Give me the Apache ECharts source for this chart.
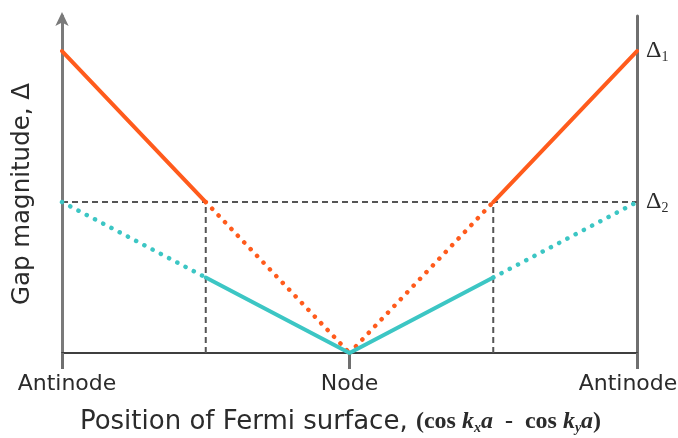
<!DOCTYPE html>
<html>
<head>
<meta charset="utf-8">
<script src="https://cdn.jsdelivr.net/npm/echarts@6/dist/echarts.min.js"></script>
<style>
  html, body { margin: 0; padding: 0; background: #ffffff; }
  #chart { width: 678px; height: 438px; }
</style>
</head>
<body>
<div id="chart"></div>
<script>
// Positions along the Fermi surface: antinode (-1), node (0), antinode (1)
const positions = [-1, -0.5, 0, 0.5, 1];
const positionLabels = { '-1': '{l|Antinode}', '0': 'Node', '1': '{r|Antinode}' };

// Gap levels marked on the right-hand axis
const delta1 = 1.0;
const delta2 = 0.5;

// Gap magnitude of each branch at the positions above
const orangeGap = [1.0, 0.5, 0.0, 0.5, 1.0];
const cyanGap = [0.5, 0.25, 0.0, 0.25, 0.5];

// Which segment between consecutive positions is drawn solid (true) or dotted (false)
const orangeSolid = [true, false, false, true];
const cyanSolid = [false, true, true, false];

const ORANGE = '#ff5b1c';
const CYAN = '#3cc6c4';
const GUIDE = '#555555';

function pairs(values, solidFlags, wantSolid) {
  const out = [];
  for (let i = 0; i < solidFlags.length; i++) {
    if (solidFlags[i] === wantSolid) {
      out.push([positions[i], values[i]], [positions[i + 1], values[i + 1]], [NaN, NaN]);
    }
  }
  return out;
}

function segSeries(name, values, flags, solid, color) {
  return {
    name: name,
    type: 'line',
    data: pairs(values, flags, solid),
    connectNulls: false,
    showSymbol: false,
    symbol: 'none',
    silent: true,
    z: solid ? 4 : 3,
    lineStyle: solid
      ? { color: color, width: 4, cap: 'round' }
      : { color: color, width: 4.5, type: [0.1, 9.2], cap: 'round' }
  };
}

// Dashed guides: the Δ2 level and the two kink positions
const kinkLeft = positions[1];
const kinkRight = positions[3];
const guideData = [
  [positions[0], delta2], [positions[4], delta2], [NaN, NaN],
  [kinkLeft, 0], [kinkLeft, delta2], [NaN, NaN],
  [kinkRight, 0], [kinkRight, delta2]
];

const chart = echarts.init(document.getElementById('chart'), null, { renderer: 'canvas' });

const yMax = 1.116;
const TEXT = '#2b2b2b';

chart.setOption({
  backgroundColor: '#ffffff',
  animation: false,
  grid: { left: 62, right: 41, top: 16, bottom: 85, containLabel: false, outerBoundsMode: 'none' },
  xAxis: {
    type: 'value',
    min: -1,
    max: 1,
    interval: 1,
    splitLine: { show: false },
    axisLine: { show: true, onZero: false, lineStyle: { color: '#3f3f3f', width: 2 } },
    axisTick: { show: true, length: 16, lineStyle: { color: '#6f6f6f', width: 3 } },
    axisLabel: {
      margin: 20,
      fontFamily: 'DejaVu Sans',
      fontSize: 22,
      color: TEXT,
      formatter: v => positionLabels[String(v)] || '',
      rich: {
        l: { fontFamily: 'DejaVu Sans', fontSize: 22, color: TEXT, padding: [0, 0, 0, 10] },
        r: { fontFamily: 'DejaVu Sans', fontSize: 22, color: TEXT, padding: [0, 18, 0, 0] }
      }
    },
    name: '{t|Position of Fermi surface, }{f|(cos }{i|k}{s|x}{i|a}{f|  -  cos }{i|k}{s|y}{i|a}{f|)}',
    nameLocation: 'middle',
    nameGap: 56,
    nameTextStyle: {
      padding: [0, 18, 0, 0],
      rich: {
        t: { fontFamily: 'DejaVu Sans', fontSize: 26, color: TEXT },
        f: { fontFamily: 'Liberation Serif', fontWeight: 'bold', fontSize: 24, color: TEXT },
        i: { fontFamily: 'Liberation Serif', fontWeight: 'bold', fontStyle: 'italic', fontSize: 24, color: TEXT },
        s: { fontFamily: 'Liberation Serif', fontWeight: 'bold', fontStyle: 'italic', fontSize: 14, color: TEXT, verticalAlign: 'bottom', padding: [12, 0, 0, 0] }
      }
    }
  },
  yAxis: [
    {
      type: 'value',
      min: 0,
      max: yMax,
      position: 'left',
      splitLine: { show: false },
      axisTick: { show: false },
      axisLabel: { show: false },
      axisLine: {
        show: true,
        onZero: false,
        symbol: ['none', 'arrow'],
        symbolSize: [10, 14],
        symbolOffset: [0, 4],
        lineStyle: { color: '#7a7a7a', width: 3 }
      },
      name: 'Gap magnitude, Δ',
      nameLocation: 'middle',
      nameGap: 27,
      nameTextStyle: {
        fontFamily: 'DejaVu Sans',
        fontSize: 24.5,
        color: TEXT,
        padding: [0, 19, 0, 0]
      }
    },
    {
      type: 'value',
      min: 0,
      max: yMax,
      interval: delta2,
      position: 'right',
      splitLine: { show: false },
      axisTick: { show: false },
      axisLine: { show: true, onZero: false, lineStyle: { color: '#6f6f6f', width: 3 } },
      axisLabel: {
        margin: 9,
        showMaxLabel: false,
        formatter: v => {
          if (Math.abs(v - delta1) < 1e-6) return '{d|Δ}{s|1}';
          if (Math.abs(v - delta2) < 1e-6) return '{d|Δ}{s|2}';
          return '';
        },
        rich: {
          d: { fontFamily: 'Liberation Serif', fontSize: 24, color: TEXT },
          s: { fontFamily: 'Liberation Serif', fontSize: 14, color: TEXT, verticalAlign: 'bottom', padding: [12, 0, 0, 0] }
        }
      }
    }
  ],
  series: [
    {
      name: 'guides',
      type: 'line',
      data: guideData,
      showSymbol: false,
      symbol: 'none',
      silent: true,
      z: 2,
      lineStyle: { color: GUIDE, width: 2, type: [6, 4] }
    },
    segSeries('orange dotted', orangeGap, orangeSolid, false, ORANGE),
    segSeries('orange solid', orangeGap, orangeSolid, true, ORANGE),
    segSeries('cyan dotted', cyanGap, cyanSolid, false, CYAN),
    segSeries('cyan solid', cyanGap, cyanSolid, true, CYAN)
  ]
});
</script>
</body>
</html>
